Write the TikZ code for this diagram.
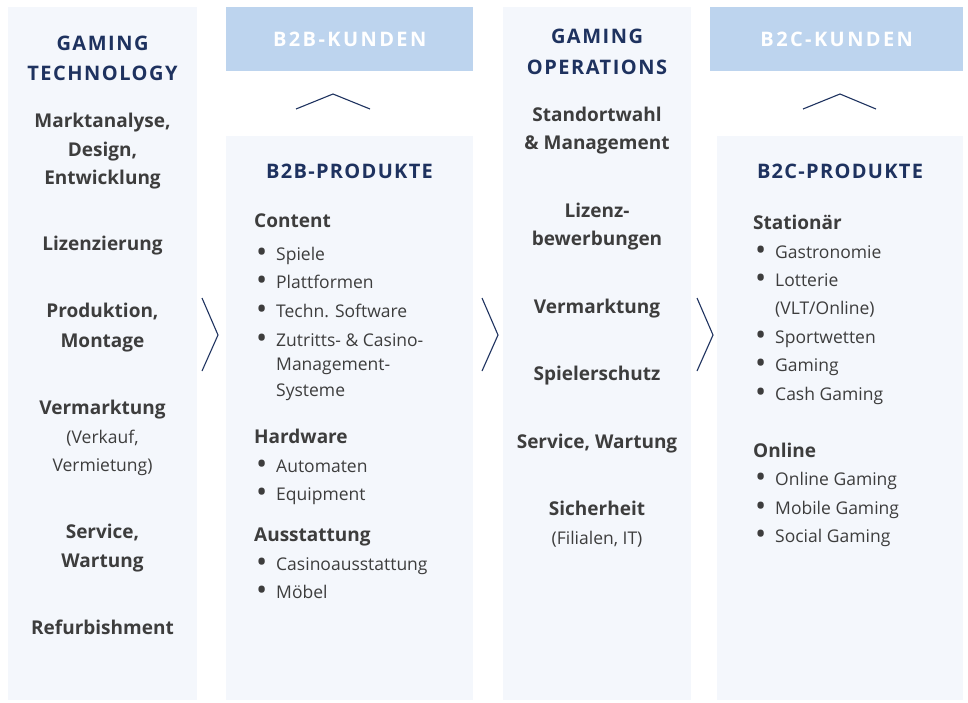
\documentclass[tikz,border=0pt]{standalone}
\usepackage{fontspec}
\setmainfont{Open Sans}
\usepackage{xcolor}
\usetikzlibrary{positioning}

\definecolor{panelbg}{HTML}{F4F7FC}
\definecolor{headbg}{HTML}{BDD4EE}
\definecolor{navy}{HTML}{1E325F}
\definecolor{ink}{HTML}{3D3D3D}

\newcommand{\blt}{\llap{\raisebox{-1.9pt}{\scalebox{1.7}{\textbullet}}\hspace{9pt}}}

\begin{document}
\begin{tikzpicture}[
    x=1pt, y=-1pt,
    panel/.style={rectangle, fill=panelbg, inner sep=0pt, anchor=north west},
    kunden/.style={rectangle, fill=headbg, inner sep=0pt, anchor=north west, text=white,
        font=\bfseries\fontsize{20}{24}\selectfont\addfontfeature{LetterSpace=12}},
    coltitle/.style={text=navy, anchor=mid, inner sep=0pt, yshift=-4pt,
        font=\bfseries\fontsize{20}{24}\selectfont\addfontfeature{LetterSpace=7.5}},
    prodtitle/.style={text=navy, anchor=mid, inner sep=0pt, yshift=-4pt,
        font=\bfseries\fontsize{20}{24}\selectfont\addfontfeature{LetterSpace=6.5}},
    task/.style={text=ink, anchor=mid, inner sep=0pt, yshift=-4pt, font=\bfseries\fontsize{19}{22}\selectfont},
    note/.style={text=ink, anchor=mid, inner sep=0pt, yshift=-4pt, font=\fontsize{17.5}{21}\selectfont},
    group/.style={text=ink, anchor=mid west, inner sep=0pt, yshift=-4pt, font=\bfseries\fontsize{19}{22}\selectfont},
    item/.style={text=ink, anchor=mid west, inner sep=0pt, yshift=-4pt, font=\fontsize{17.5}{21}\selectfont},
    chev/.style={draw=navy, line width=1.1pt}
]
    \useasboundingbox (0,0) rectangle (968,702);

    % panels
    \node[panel, minimum width=189pt, minimum height=693pt] (tech) at (8,7) {};
    \node[kunden, minimum width=247pt, minimum height=64pt] (b2bk) at (226,7) {B2B-KUNDEN};
    \node[panel, minimum width=247pt, minimum height=564pt] (b2bp) at (226,136) {};
    \node[panel, minimum width=188pt, minimum height=693pt] (ops) at (503,7) {};
    \node[kunden, minimum width=253pt, minimum height=64pt] (b2ck) at (710,7) {B2C-KUNDEN};
    \node[panel, minimum width=246pt, minimum height=564pt] (b2cp) at (717,136) {};

    % gaming technology
    \node[coltitle] (t1a) at (102.5,44) {GAMING};
    \node[coltitle] (t1b) at (102.5,74) {TECHNOLOGY};
    \node[task] (markt) at (102.5,121) {Marktanalyse,};
    \node[task] (design) at (102.5,150) {Design,};
    \node[task] (entw) at (102.5,178) {Entwicklung};
    \node[task] (lizenz) at (102.5,244) {Lizenzierung};
    \node[task] (prod) at (102.5,311) {Produktion,};
    \node[task] (mont) at (102.5,341) {Montage};
    \node[task] (verm) at (102.5,408) {Vermarktung};
    \node[note] (verk) at (102.5,437) {(Verkauf,};
    \node[note] (vmiet) at (102.5,465) {Vermietung)};
    \node[task] (serv) at (102.5,532) {Service,};
    \node[task] (wart) at (102.5,561) {Wartung};
    \node[task] (refurb) at (102.5,628) {Refurbishment};

    % b2b produkte
    \node[prodtitle] (t2) at (349.5,172) {B2B-PRODUKTE};
    \node[group] (content) at (254,221) {Content};
    \foreach \y/\t in {254/Spiele, 282/Plattformen, 311/Techn. Software, 340/Zutritts- \& Casino-}
        \node[item] (bb\y) at (276,\y) {\blt\t};
    \node[item] (bb364) at (276,364) {Management-};
    \node[item] (bb390) at (276,390) {Systeme};
    \node[group] (hardw) at (254,437) {Hardware};
    \foreach \y/\t in {466/Automaten, 494/Equipment}
        \node[item] (bb\y) at (276,\y) {\blt\t};
    \node[group] (ausst) at (254,535) {Ausstattung};
    \foreach \y/\t in {564/Casinoausstattung, 592/Möbel}
        \node[item] (bb\y) at (276,\y) {\blt\t};

    % gaming operations
    \node[coltitle] (t3a) at (597,37) {GAMING};
    \node[coltitle] (t3b) at (597,68) {OPERATIONS};
    \node[task] (stand) at (597,115) {Standortwahl};
    \node[task] (mgmt) at (597,143) {\& Management};
    \node[task] (lzb1) at (597,211) {Lizenz-};
    \node[task] (lzb2) at (597,239) {bewerbungen};
    \node[task] (verm2) at (597,307) {Vermarktung};
    \node[task] (schutz) at (597,374) {Spielerschutz};
    \node[task] (serv2) at (597,442) {Service, Wartung};
    \node[task] (sich) at (597,509) {Sicherheit};
    \node[note] (fil) at (597,538) {(Filialen, IT)};

    % b2c produkte
    \node[prodtitle] (t4) at (840,172) {B2C-PRODUKTE};
    \node[group] (stat) at (753,223) {Stationär};
    \foreach \y/\t in {252/Gastronomie, 280/Lotterie}
        \node[item] (bc\y) at (775,\y) {\blt\t};
    \node[item] (bc308) at (775,308) {(VLT/Online)};
    \foreach \y/\t in {337/Sportwetten, 365/Gaming, 394/Cash Gaming}
        \node[item] (bc\y) at (775,\y) {\blt\t};
    \node[group] (onl) at (753,451) {Online};
    \foreach \y/\t in {479/Online Gaming, 508/Mobile Gaming, 536/Social Gaming}
        \node[item] (bc\y) at (775,\y) {\blt\t};

    % chevrons
    \draw[chev] (202,298) -- (218,335) -- (202,371);
    \draw[chev] (482,298) -- (498,335) -- (482,371);
    \draw[chev] (697,298) -- (713,335) -- (697,371);
    \draw[chev] (296,109) -- (333,94) -- (370,109);
    \draw[chev] (803,109) -- (840,94) -- (876,109);
\end{tikzpicture}
\end{document}
